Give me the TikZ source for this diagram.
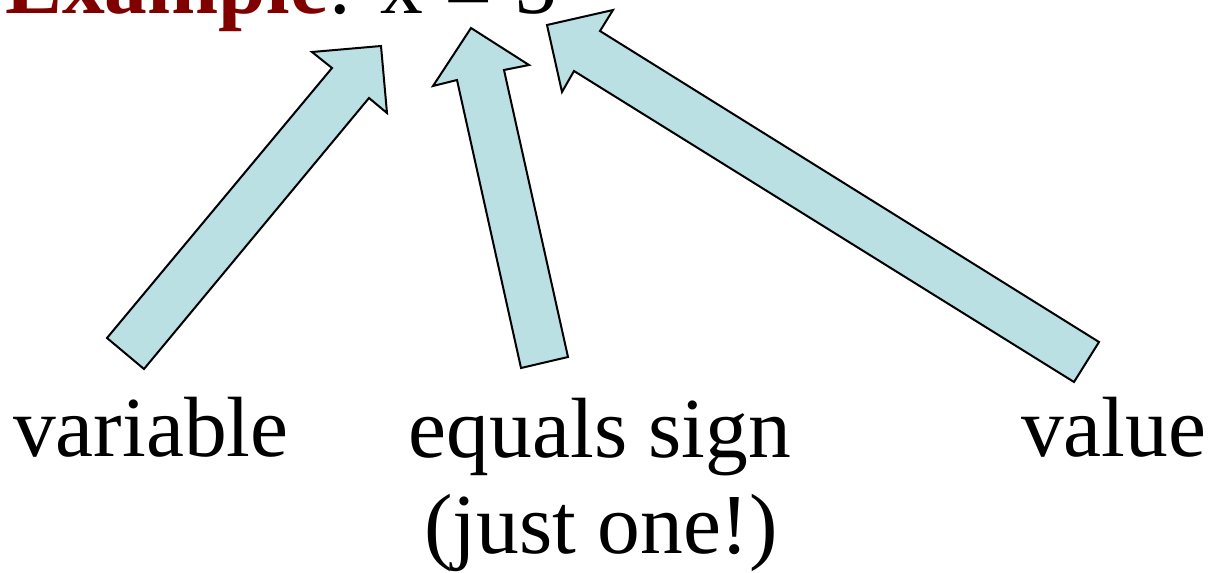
\documentclass[tikz,border=0pt]{standalone}
\usepackage{fontspec}
\setmainfont{Liberation Serif}
\definecolor{titlered}{RGB}{128,0,0}
\definecolor{arrowfill}{RGB}{186,224,228}
\begin{document}
\begin{tikzpicture}[x=1pt,y=-1pt,
  blockarrow/.style={draw=black,fill=arrowfill,line width=2pt,line join=miter},
  lbl/.style={inner sep=0pt,font=\fontsize{85.5}{97}\selectfont}]
\useasboundingbox (0,0) rectangle (1208,573);
% title
\node[lbl,anchor=base west] (title) at (5,13) {{\bfseries\color{titlered}Example}: x \raisebox{-7pt}{=} 5};
% arrows
\draw[blockarrow] (107,338) -- (332,68) -- (312,52) -- (381,46) -- (387,113) -- (369,98) -- (144,369) -- cycle;
\draw[blockarrow] (521,368) -- (457,80) -- (433,86) -- (471,28) -- (529,65) -- (504,70) -- (568,357) -- cycle;
\draw[blockarrow] (1074,382) -- (574,71) -- (562,92) -- (547,25) -- (613,10) -- (600,31) -- (1099,342) -- cycle;
% labels
\node[lbl,anchor=base west] (var) at (13,456) {variable};
\node[lbl,anchor=base] (eq) at (600,457) {equals sign};
\node[lbl,anchor=base] (eqnote) at (601,553) {(just one!)};
\node[lbl,anchor=base west] (val) at (1021,456) {value};
\end{tikzpicture}
\end{document}
